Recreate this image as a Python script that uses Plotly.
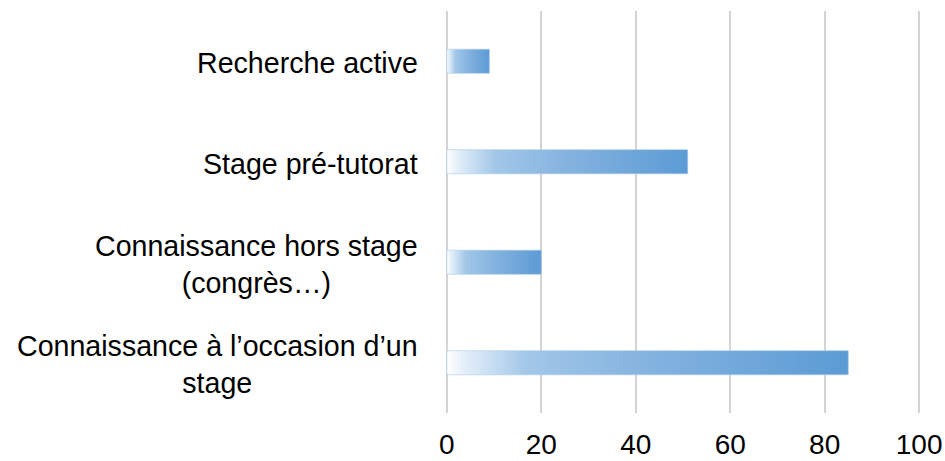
import plotly.graph_objects as go

categories = [
    "Connaissance à l’occasion d’un<br>stage",
    "Connaissance hors stage<br>(congrès…)",
    "Stage pré-tutorat",
    "Recherche active",
]
values = [85, 20, 51, 9]
tick_vals = [0, 20, 40, 60, 80, 100]

FONT = "Liberation Sans, Arial, sans-serif"
half = 0.12
gradient = [[0, "#FFFFFF"], [0.04, "#E6F0FA"], [0.2, "#A2C7E8"], [0.5, "#84B3DF"], [1, "#5B9BD5"]]

fig = go.Figure()
for i, (cat, v) in enumerate(zip(categories, values)):
    fig.add_trace(go.Scatter(
        x=[0, v, v, 0, 0],
        y=[i - half, i - half, i + half, i + half, i - half],
        mode="lines",
        fill="toself",
        fillgradient=dict(type="horizontal", colorscale=gradient),
        line=dict(color="rgba(170,203,233,0.6)", width=1),
        hoverinfo="skip",
        showlegend=False,
    ))
    fig.add_annotation(
        x=0, xref="paper", y=i, yref="y",
        text=cat, showarrow=False,
        xanchor="right", yanchor="middle", align="center",
        xshift=-25, yshift=-2,
        font=dict(family=FONT, size=28.6, color="#000000"),
    )

fig.update_xaxes(
    range=[-0.4, 100.4], tickvals=tick_vals,
    showgrid=True, gridcolor="#D4D4D4", gridwidth=2,
    zeroline=False, showline=False, ticks="",
    tickfont=dict(family=FONT, size=28, color="#000000"),
    ticklabelstandoff=12,
)
fig.update_yaxes(
    range=[-0.5, 3.5], showticklabels=False, showgrid=False,
    zeroline=False, showline=False, ticks="",
)

fig.update_layout(
    width=945, height=461,
    margin=dict(l=445, r=24, t=11, b=48, autoexpand=False),
    paper_bgcolor="white", plot_bgcolor="white",
)

fig.write_html(
    "out.html",
    config={"displayModeBar": False},
    post_script="document.body.style.margin='0';document.body.style.overflow='hidden';",
)
